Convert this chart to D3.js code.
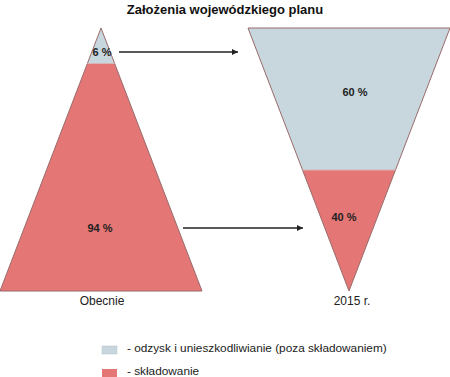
<!DOCTYPE html>
<html>
<head>
<meta charset="utf-8">
<script src="https://cdnjs.cloudflare.com/ajax/libs/d3/7.8.5/d3.min.js"></script>
<style>
    body { margin: 0; background: #fff; }
    svg { display: block; font-family: "Liberation Sans", Arial, sans-serif; }
</style>
</head>
<body>
<svg id="chart" width="450" height="377"></svg>
<script>
    // data
    var categories = ["Obecnie", "2015 r."];
    var recovery = [6, 60];     // odzysk i unieszkodliwianie
    var landfill = [94, 40];    // składowanie
    var shapes = ["up", "down"]; // triangle apex up / funnel apex down
    var legendLabels = ["- odzysk i unieszkodliwianie (poza składowaniem)", "- składowanie"];

    var colors = { rec: "#c7d7dd", land: "#e57676", edge: "#9a6b6b" };

    var svg = d3.select("#chart");

    // layout
    var halfW = 101;
    var cx = d3.scalePoint().domain(categories).range([101, 349]);
    var y = d3.scaleLinear().domain([0, 1]).range([28, 291]);
    // share (%) -> depth of the split line from the top
    var split = d3.scaleLinear().domain([0, 100]).range([0.09, 0.84]);

    function halfWidth(shape, t) {
        return shape === "up" ? t * halfW : (1 - t) * halfW;
    }
    function band(cat, shape, t0, t1) {
        var c = cx(cat);
        var w0 = halfWidth(shape, t0), w1 = halfWidth(shape, t1);
        return [[c - w0, y(t0)], [c + w0, y(t0)], [c + w1, y(t1)], [c - w1, y(t1)]];
    }

    var line = d3.line();

    categories.forEach(function(cat, i) {
        var shape = shapes[i];
        var t = split(recovery[i]);
        var g = svg.append("g");

        g.append("path")
            .attr("d", line(band(cat, shape, 0, t)) + "Z")
            .attr("fill", colors.rec);
        g.append("path")
            .attr("d", line(band(cat, shape, t, 1)) + "Z")
            .attr("fill", colors.land);
        // outline
        g.append("path")
            .attr("d", line(band(cat, shape, 0, 1)) + "Z")
            .attr("fill", "none")
            .attr("stroke", colors.edge)
            .attr("stroke-width", 1);
        g.append("line")
            .attr("x1", cx(cat) - halfWidth(shape, t)).attr("x2", cx(cat) + halfWidth(shape, t))
            .attr("y1", y(t)).attr("y2", y(t))
            .attr("stroke", "#d9b4b4").attr("stroke-width", 1);

        // percent labels
        var tRec = shape === "up" ? t * 2 / 3 : t * 0.45;
        var tLand = shape === "up" ? 0.76 : t + (1 - t) * 0.39;
        g.append("text")
            .attr("x", cx(cat) + (shape === "up" ? 1 : 6)).attr("y", y(tRec) + 4)
            .attr("text-anchor", "middle")
            .attr("font-size", "11px").attr("font-weight", "bold").attr("fill", "#222")
            .text(recovery[i] + " %");
        g.append("text")
            .attr("x", cx(cat) - (shape === "up" ? 1 : 5)).attr("y", y(tLand) + 4)
            .attr("text-anchor", "middle")
            .attr("font-size", "11px").attr("font-weight", "bold").attr("fill", "#222")
            .text(landfill[i] + " %");

        // category label
        g.append("text")
            .attr("x", cx(cat) + (shape === "up" ? 1 : 3)).attr("y", 305)
            .attr("text-anchor", "middle")
            .attr("font-size", "12px").attr("fill", "#222")
            .text(cat);
    });

    // arrows
    svg.append("defs").append("marker")
        .attr("id", "arrow")
        .attr("viewBox", "0 0 10 10")
        .attr("refX", 10).attr("refY", 5)
        .attr("markerWidth", 8).attr("markerHeight", 6)
        .attr("markerUnits", "userSpaceOnUse")
        .attr("orient", "auto")
        .append("path").attr("d", "M0,0L10,5L0,10Z").attr("fill", "#222");

    var arrows = [[119, 238, 52], [183, 303, 228]];
    svg.selectAll(".arrow").data(arrows).enter().append("line")
        .attr("class", "arrow")
        .attr("x1", function(d) { return d[0]; })
        .attr("x2", function(d) { return d[1]; })
        .attr("y1", function(d) { return d[2]; })
        .attr("y2", function(d) { return d[2]; })
        .attr("stroke", "#222").attr("stroke-width", 1.5)
        .attr("marker-end", "url(#arrow)");

    // title
    svg.append("text")
        .attr("x", 225).attr("y", 14)
        .attr("text-anchor", "middle")
        .attr("font-size", "13px").attr("font-weight", "bold").attr("fill", "#111")
        .text("Założenia wojewódzkiego planu");

    // legend
    var legend = svg.append("g").attr("transform", "translate(102,346)");
    var lg = legend.selectAll("g").data(legendLabels).enter().append("g")
        .attr("transform", function(d, i) { return "translate(0," + (i * 23) + ")"; });
    lg.append("rect")
        .attr("width", 15).attr("height", 8)
        .attr("fill", function(d, i) { return i === 0 ? colors.rec : colors.land; })
        .attr("stroke", function(d, i) { return i === 0 ? "#b3c4ca" : "none"; })
        .attr("stroke-width", 0.5);
    lg.append("text")
        .attr("x", 25).attr("y", 6)
        .attr("font-size", "11.8px").attr("fill", "#222")
        .text(function(d) { return d; });
</script>
</body>
</html>
